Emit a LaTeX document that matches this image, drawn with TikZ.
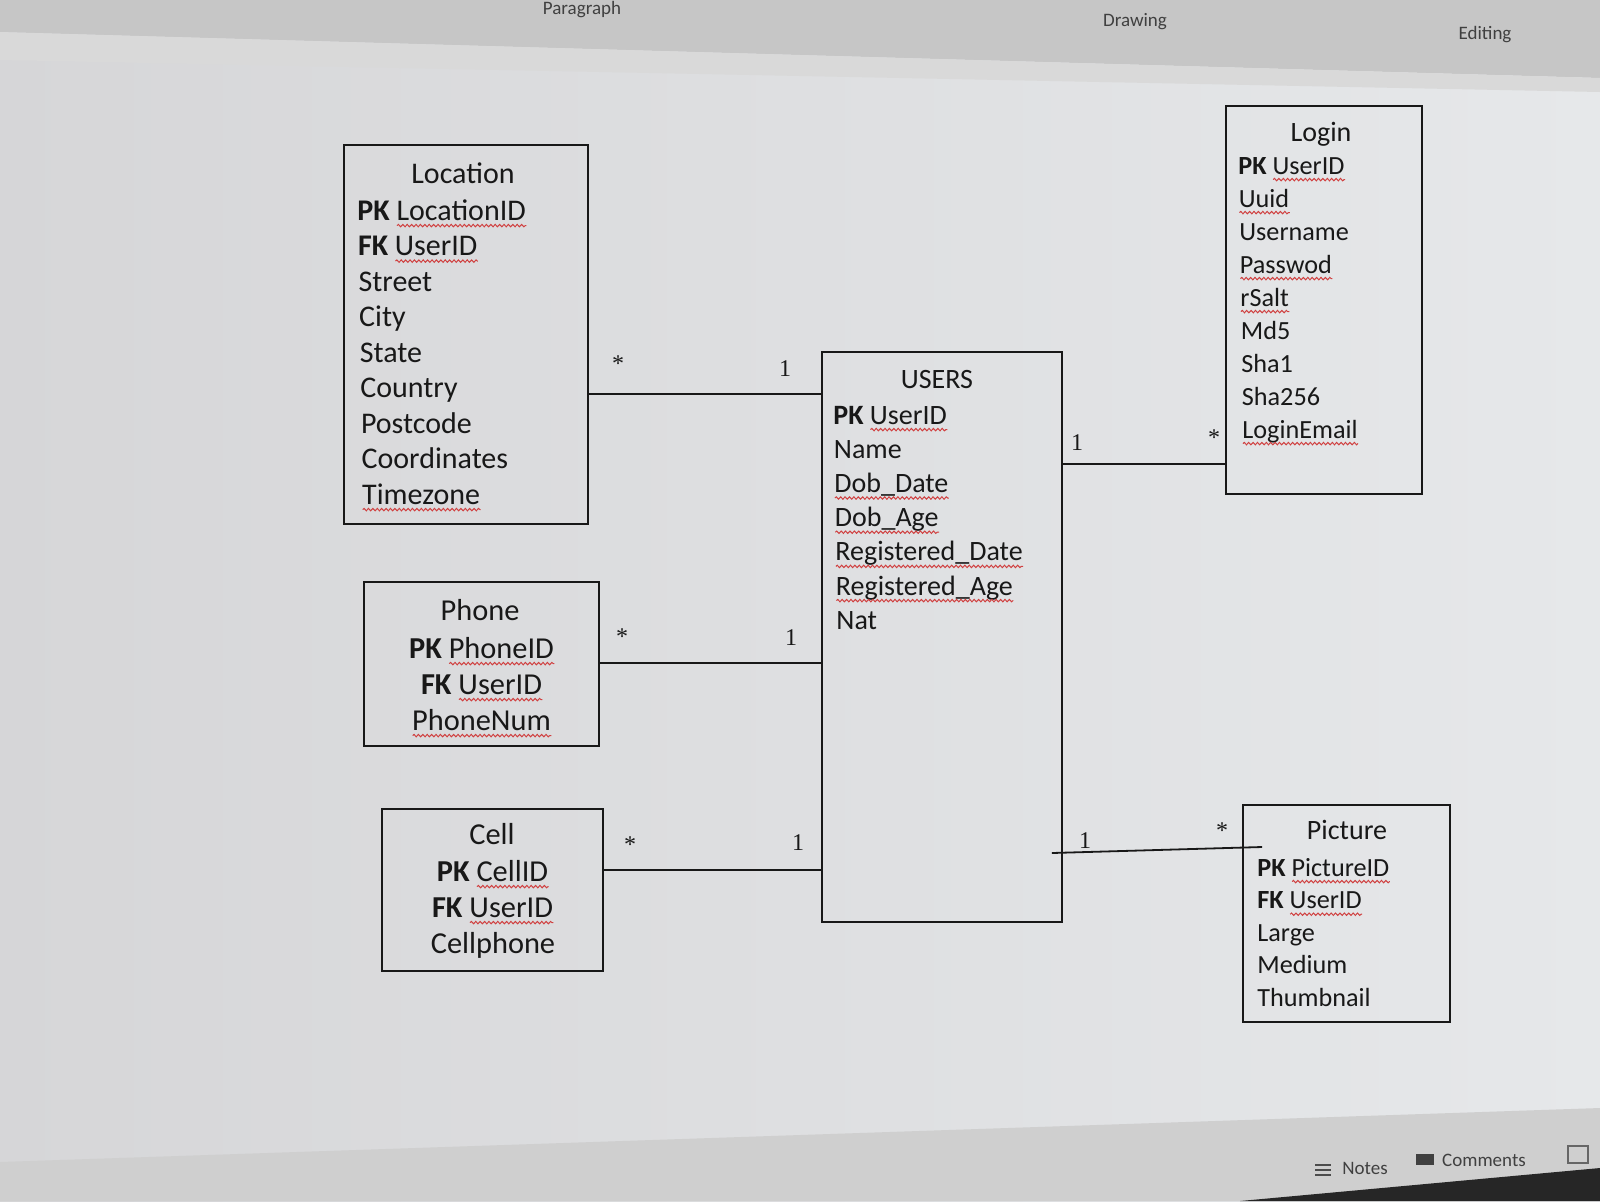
\documentclass[tikz,border=0pt]{standalone}
\usepackage{fontspec}
\setmainfont{Carlito}
\newfontfamily\serifnum{Liberation Serif}
\usetikzlibrary{fit,calc,decorations.pathmorphing}
\definecolor{ink}{HTML}{181818}
\definecolor{wave}{HTML}{D04040}
\definecolor{bgl}{HTML}{D6D6D8}
\definecolor{bgr}{HTML}{E6E8EA}
\newsavebox\sqbox
\newcommand\sq[1]{\sbox\sqbox{#1}\leavevmode\rlap{\usebox\sqbox}\raisebox{-2.8pt}{\tikz[x=1pt,y=1pt,baseline=0pt]\draw[wave,line width=0.5pt,decorate,decoration={snake,amplitude=0.6pt,segment length=2.2pt}] (0,0) -- (\the\wd\sqbox,0);}}
\begin{document}
\begin{tikzpicture}[x=0.5pt,y=-0.5pt,
  tbl/.style={draw=ink, line width=0.9pt, rectangle, inner sep=0pt},
  ttl/.style={inner sep=0pt, anchor=base, text=ink},
  lrow/.style={inner sep=0pt, anchor=base west, text=ink},
  crow/.style={inner sep=0pt, anchor=base, text=ink},
  fA/.style={font=\fontsize{15}{17}\selectfont},
  fB/.style={font=\fontsize{14}{17}\selectfont},
  fC/.style={font=\fontsize{13.1}{16}\selectfont},
  fD/.style={font=\fontsize{15.2}{17}\selectfont},
  mult/.style={inner sep=0pt, font=\serifnum\fontsize{12}{14}\selectfont, text=ink},
  link/.style={draw=ink, line width=0.9pt},
  ui/.style={inner sep=0pt, font=\fontsize{9.5}{11}\selectfont, text=black!75}]
\useasboundingbox (0,0) rectangle (1600,1201);
\clip (0,0) rectangle (1600,1201);
% screen background
\shade[left color=bgl, right color=bgr] (0,0) rectangle (1600,1201);
\fill[gray!45] (0,0) -- (1600,0) -- (1600,78) -- (0,32) -- cycle;
\fill[gray!30] (0,32) -- (1600,78) -- (1600,92) -- (0,60) -- cycle;
\fill[gray!38] (0,1162) -- (1600,1108) -- (1600,1201) -- (0,1201) -- cycle;
\fill[black!85] (1240,1201) -- (1600,1168) -- (1600,1201) -- cycle;
\node[ui] (uiPara) at (582,10) {Paragraph};
\node[ui] (uiDraw) at (1135,22) {Drawing};
\node[ui] (uiEdit) at (1485,35) {Editing};
\node[ui] (uiNotes) at (1365,1168) {Notes};
\node[ui] (uiComm) at (1484,1160) {Comments};
\draw[black!70, line width=0.6pt] (1315,1165) -- (1331,1165) (1315,1170) -- (1331,1170) (1315,1175) -- (1331,1175);
\fill[black!75] (1416,1154) rectangle (1434,1165);
\draw[black!60, line width=0.6pt] (1568,1146) rectangle (1588,1163);

% tables
\node[tbl, fit={(344,145) (588,524)}] (loc) {};
\node[tbl, fit={(364,582) (599,746)}] (phone) {};
\node[tbl, fit={(382,809) (603,971)}] (cell) {};
\node[tbl, fit={(822,352) (1062,922)}] (users) {};
\node[tbl, fit={(1226,106) (1422,494)}] (login) {};
\node[tbl, fit={(1243,805) (1450,1022)}] (pic) {};

% Location
\node[ttl,fA] (locT) at (463,183) {Location};
\foreach \t [count=\i] in {{\textbf{PK} \sq{LocationID}},{\textbf{FK} \sq{UserID}},Street,City,State,Country,Postcode,Coordinates,{\sq{Timezone}}}
  \node[lrow,fA] (loc-\i) at ({357+0.6*(\i-1)},{220+35.5*(\i-1)}) {\t};

% Phone
\node[crow,fD] (phoneT) at (480,620) {Phone};
\foreach \t [count=\i] in {{\textbf{PK} \sq{PhoneID}},{\textbf{FK} \sq{UserID}},{\sq{PhoneNum}}}
  \node[crow,fD] (phone-\i) at (482,{658+36*(\i-1)}) {\t};

% Cell
\node[crow,fD] (cellT) at (492,844) {Cell};
\foreach \t [count=\i] in {{\textbf{PK} \sq{CellID}},{\textbf{FK} \sq{UserID}},Cellphone}
  \node[crow,fD] (cell-\i) at (493,{881+36*(\i-1)}) {\t};

% USERS
\node[ttl,fB] (usersT) at (937,388) {USERS};
\foreach \t [count=\i] in {{\textbf{PK} \sq{UserID}},Name,{\sq{Dob\_Date}},{\sq{Dob\_Age}},{\sq{Registered\_Date}},{\sq{Registered\_Age}},Nat}
  \node[lrow,fB] (users-\i) at ({833+0.5*(\i-1)},{424+34.2*(\i-1)}) {\t};

% Login
\node[ttl,fB] (loginT) at (1321,141) {Login};
\foreach \t [count=\i] in {{\textbf{PK} \sq{UserID}},{\sq{Uuid}},Username,{\sq{Passwod}},{\sq{rSalt}},Md5,Sha1,Sha256,{\sq{LoginEmail}}}
  \node[lrow,fC] (login-\i) at ({1238+0.5*(\i-1)},{174+33*(\i-1)}) {\t};

% Picture
\node[ttl,fB] (picT) at (1347,839) {Picture};
\foreach \t [count=\i] in {{\textbf{PK} \sq{PictureID}},{\textbf{FK} \sq{UserID}},Large,Medium,Thumbnail}
  \node[lrow,fC] (pic-\i) at (1257,{876+32.6*(\i-1)}) {\t};

% connectors
\draw[link] (loc.east |- 0,394) -- (users.west |- 0,394);
\draw[link] (phone.east |- 0,663) -- (users.west |- 0,663);
\draw[link] (cell.east |- 0,870) -- (users.west |- 0,870);
\draw[link] (users.east |- 0,464) -- (login.west |- 0,464);
\draw[link] ([xshift=-5.5pt]users.east |- 0,853) -- ([xshift=10pt]pic.west |- 0,847);

% multiplicities
\node[mult] (m1) at (618,364) {*};
\node[mult] (m2) at (785,369) {1};
\node[mult] (m3) at (622,637) {*};
\node[mult] (m4) at (791,638) {1};
\node[mult] (m5) at (630,845) {*};
\node[mult] (m6) at (798,843) {1};
\node[mult] (m7) at (1077,443) {1};
\node[mult] (m8) at (1214,438) {*};
\node[mult] (m9) at (1085,841) {1};
\node[mult] (m10) at (1222,831) {*};
\end{tikzpicture}
\end{document}
